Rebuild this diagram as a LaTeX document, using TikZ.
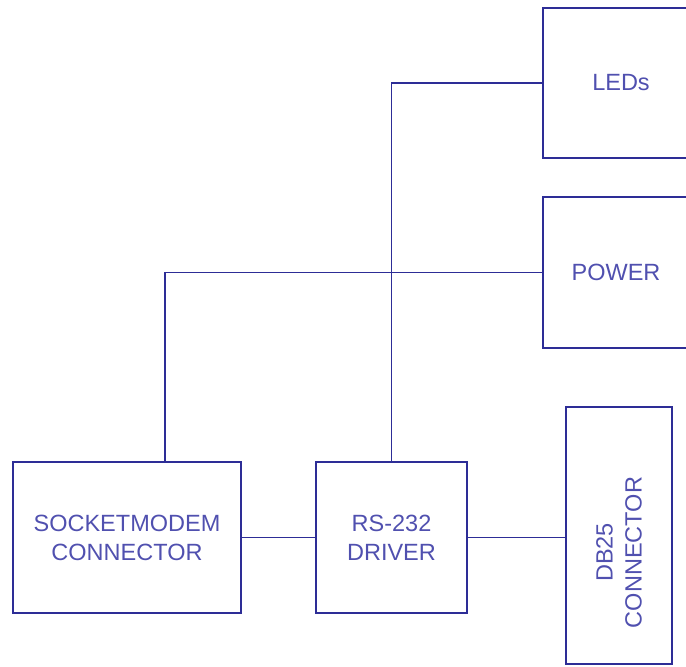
\documentclass[tikz,border=0pt]{standalone}
\usepackage{fontspec}
\setmainfont{Liberation Sans}
\usetikzlibrary{positioning}
\definecolor{linecol}{RGB}{45,45,150}
\definecolor{textcol}{RGB}{80,80,175}

\begin{document}
\begin{tikzpicture}[x=1pt, y=-1pt,
  box/.style={draw=linecol, line width=1.8pt, text=textcol, align=center,
    font=\fontsize{23.5}{29}\selectfont, inner sep=0pt},
  wire/.style={draw=linecol, line width=1.8pt}]
  \useasboundingbox (0,0) rectangle (686,667);
  \node[box, minimum width=156pt, minimum height=150pt] (leds) at (621,83) {LEDs};
  \node[box, minimum width=146pt, minimum height=151pt] (power) at (616,272.5) {POWER};
  \node[box, minimum width=228pt, minimum height=151pt] (sock) at (127,537.5) {SOCKETMODEM\\CONNECTOR};
  \node[box, minimum width=151pt, minimum height=151pt] (rs) at (391.5,537.5) {RS-232\\DRIVER};
  \node[box, rotate=90, minimum width=257pt, minimum height=106pt] (db) at (619,535.5)
    {\hspace*{-34pt}DB25\\\hspace*{-34pt}CONNECTOR};
  % wiring
  \draw[wire] (leds.west) -| (rs.north);
  \draw[wire] (power.west) -| ([xshift=38pt]sock.north);
  \draw[wire] (sock.east) -- (rs.west);
  \draw[wire] (rs.east) -- (rs.east -| db.north);
\end{tikzpicture}
\end{document}
